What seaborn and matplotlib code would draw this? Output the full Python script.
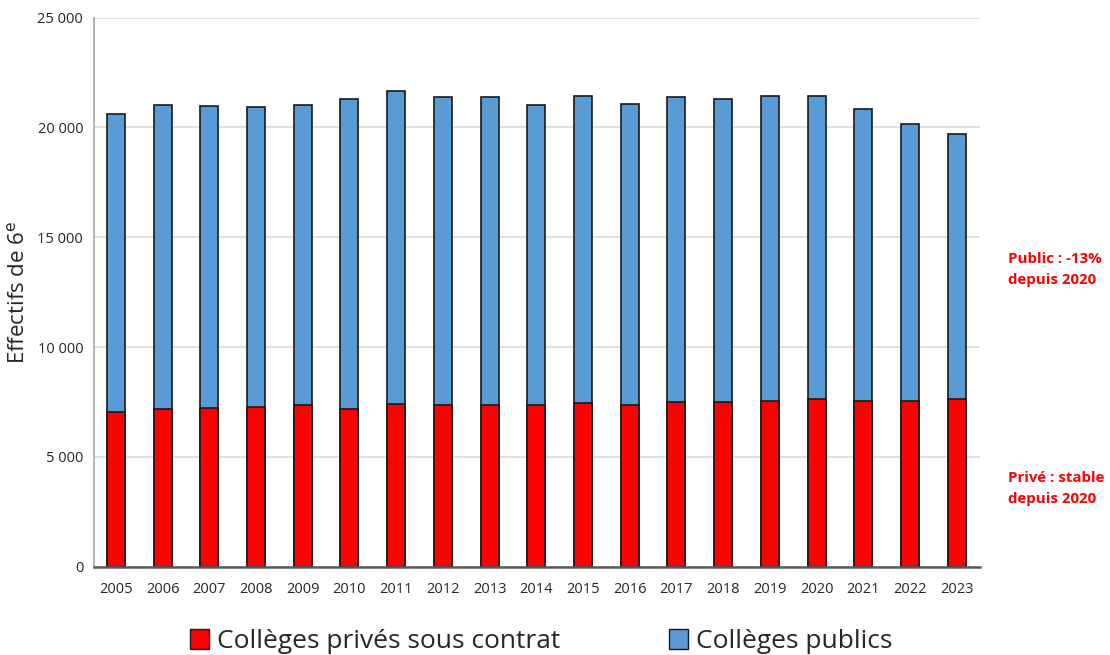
import matplotlib
matplotlib.use("Agg")
from matplotlib import pyplot as plt
from matplotlib.patches import Patch
from matplotlib.ticker import FuncFormatter
import seaborn as sns
import numpy as np
import pandas as pd

annees = [str(a) for a in range(2005, 2024)]
prive = [7020, 7170, 7230, 7290, 7350, 7170, 7400, 7350, 7350, 7350,
         7440, 7350, 7490, 7490, 7550, 7610, 7550, 7550, 7610]
public = [13580, 13860, 13740, 13620, 13670, 14120, 14270, 14050, 14050, 13670,
          14000, 13730, 13910, 13800, 13890, 13830, 13270, 12620, 12090]

df = pd.DataFrame({"annee": annees, "prive": prive, "public": public})
df["total"] = df["prive"] + df["public"]

rouge = "#FF0000"
bleu = "#5B9BD5"

sns.set_style("white")
plt.rcParams["font.family"] = ["Open Sans", "DejaVu Sans"]

fig = plt.figure(figsize=(11.1, 6.55), dpi=100)
ax = fig.add_axes([0.085, 0.135, 0.798, 0.838])

sns.barplot(data=df, x="annee", y="total", color=bleu, saturation=1,
            width=0.385, edgecolor="#1a1a1a", linewidth=1.2, ax=ax)
sns.barplot(data=df, x="annee", y="prive", color=rouge, saturation=1,
            width=0.385, edgecolor="#1a1a1a", linewidth=1.2, ax=ax)

ax.set_ylim(0, 25000)
ax.set_xlim(-0.46, 18.5)
ax.set_yticks(np.arange(0, 25001, 5000))
ax.yaxis.set_major_formatter(FuncFormatter(lambda v, p: f"{int(v):,}".replace(",", " ")))
ax.yaxis.grid(True, color="#d9d9d9", linewidth=1.2)
ax.set_axisbelow(True)
ax.tick_params(axis="both", length=0, labelsize=10.5, colors="#262626", pad=8)
ax.tick_params(axis="x", pad=11)

for s in ["top", "right"]:
    ax.spines[s].set_visible(False)
ax.spines["left"].set_color("#a6a6a6")
ax.spines["left"].set_linewidth(1.2)
ax.spines["bottom"].set_color("#595959")
ax.spines["bottom"].set_linewidth(1.8)

ax.set_xlabel("")
ax.set_ylabel("Effectifs de 6$^{\\mathrm{e}}$", fontsize=16, color="#262626", labelpad=6)

fig.text(0.908, 0.588, "Public : -13%\ndepuis 2020", color=rouge, fontsize=10.8,
         fontweight="bold", va="center", ha="left", linespacing=1.65)
fig.text(0.908, 0.254, "Privé : stable\ndepuis 2020", color=rouge, fontsize=10.8,
         fontweight="bold", va="center", ha="left", linespacing=1.65)

handles = [Patch(facecolor=rouge, edgecolor="#1a1a1a", label="Collèges privés sous contrat"),
           Patch(facecolor=bleu, edgecolor="#1a1a1a", label="Collèges publics")]
fig.legend(handles=handles, loc="lower center", bbox_to_anchor=(0.4875, -0.035), ncol=2,
           frameon=False, fontsize=19, handlelength=0.75, handleheight=0.75,
           handletextpad=0.3, columnspacing=4.1)

fig.savefig("out.png", dpi=100)
